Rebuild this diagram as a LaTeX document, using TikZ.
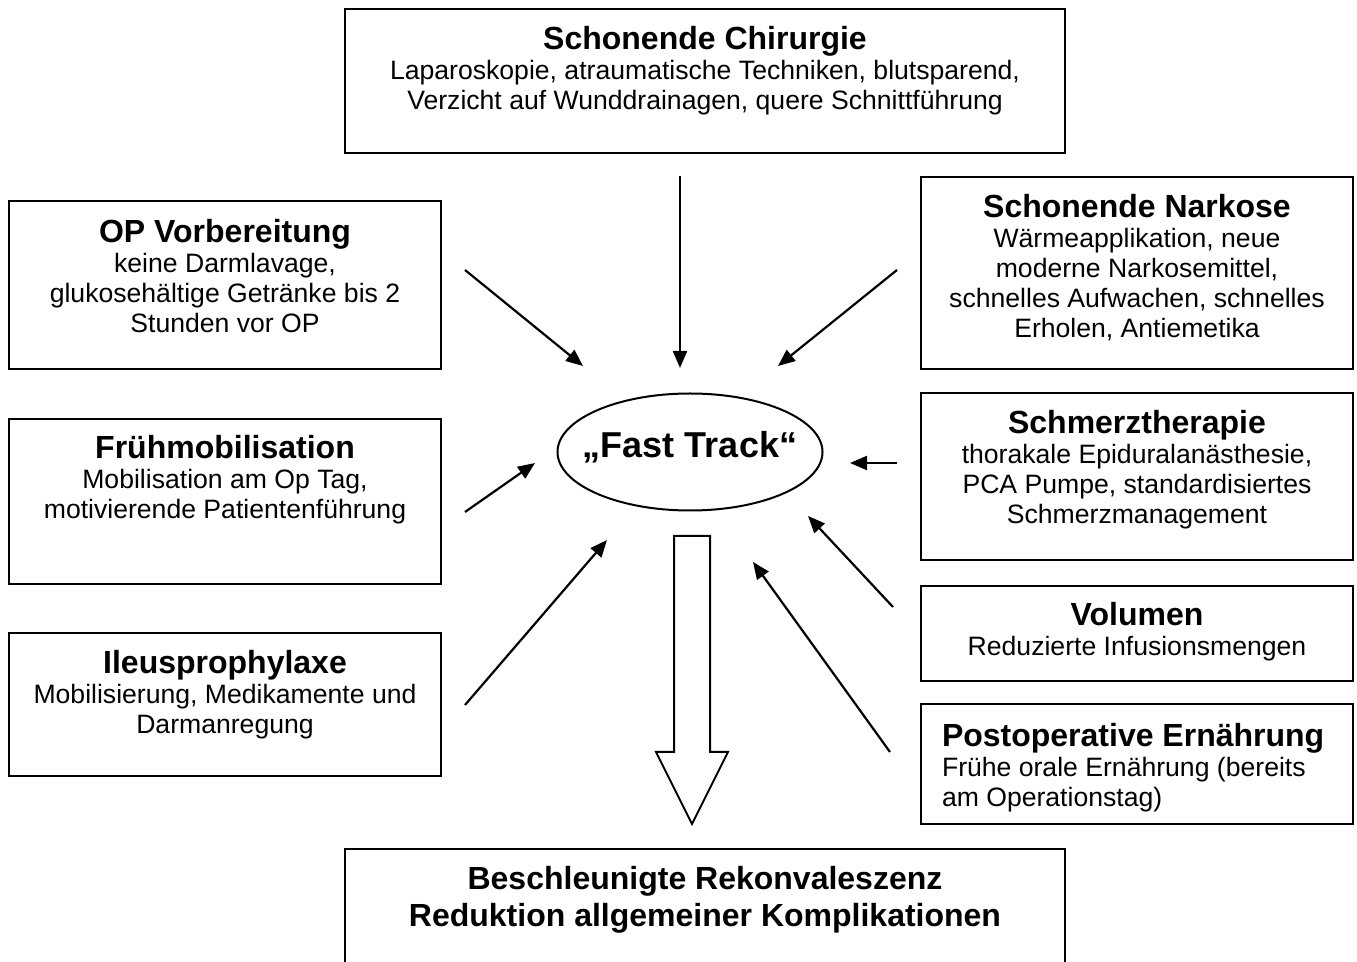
\documentclass[tikz,border=0pt]{standalone}
\usepackage{fontspec}
\setmainfont{Liberation Sans}
\usetikzlibrary{arrows.meta, shapes.geometric}

\newcommand{\fttitle}{\fontsize{16}{18.5}\bfseries\selectfont}
\newcommand{\fttext}{\fontsize{13.3}{15}\selectfont}

\begin{document}
\begin{tikzpicture}[x=0.5pt, y=-0.5pt, line width=1pt,
    box/.style={draw, anchor=north west, inner sep=0pt, minimum width=216pt},
    txt/.style={anchor=north, align=center, inner sep=0pt, font=\fttext},
    pfeil/.style={-{Triangle[length=8.5pt, width=7pt]}, line width=1.1pt}]
    \useasboundingbox (0,0) rectangle (1357,962);
    \clip (0,0) rectangle (1357,962);

    \node[box, minimum width=360pt, minimum height=72pt] (chir) at (344, 8) {};
    \node[txt] (chirtxt) at ([yshift=-8.5pt]chir.north) {{\fttitle Schonende Chirurgie}\\Laparoskopie, atraumatische Techniken, blutsparend,\\Verzicht auf Wunddrainagen, quere Schnittführung};

    \node[box, minimum height=84pt] (vorb) at (8, 200) {};
    \node[txt] (vorbtxt) at ([yshift=-9pt]vorb.north) {{\fttitle OP Vorbereitung}\\keine Darmlavage,\\glukosehältige Getränke bis 2\\Stunden vor OP};

    \node[box, minimum height=82.5pt] (mobil) at (8, 418) {};
    \node[txt] (mobiltxt) at ([yshift=-8pt]mobil.north) {{\fttitle Frühmobilisation}\\Mobilisation am Op Tag,\\motivierende Patientenführung};

    \node[box, minimum height=71.5pt] (ileus) at (8, 632) {};
    \node[txt] (ileustxt) at ([yshift=-8.5pt]ileus.north) {{\fttitle Ileusprophylaxe}\\Mobilisierung, Medikamente und\\Darmanregung};

    \node[box, minimum height=96pt] (narkose) at (920, 176) {};
    \node[txt] (narkosetxt) at ([yshift=-8.5pt]narkose.north) {{\fttitle Schonende Narkose}\\Wärmeapplikation, neue\\moderne Narkosemittel,\\schnelles Aufwachen, schnelles\\Erholen, Antiemetika};

    \node[box, minimum height=83.5pt] (schmerz) at (920, 392) {};
    \node[txt] (schmerztxt) at ([yshift=-8.5pt]schmerz.north) {{\fttitle Schmerztherapie}\\thorakale Epiduralanästhesie,\\PCA Pumpe, standardisiertes\\Schmerzmanagement};

    \node[box, minimum height=47.5pt] (volumen) at (920, 585) {};
    \node[txt] (volumentxt) at ([yshift=-8pt]volumen.north) {{\fttitle Volumen}\\Reduzierte Infusionsmengen};

    \node[box, minimum height=60pt] (ernaehr) at (920, 703) {};
    \node[txt, anchor=north west, align=left] (ernaehrtxt) at ([xshift=10.5pt, yshift=-9.5pt]ernaehr.north west) {{\fttitle Postoperative Ernährung}\\Frühe orale Ernährung (bereits\\am Operationstag)};

    \node[box, minimum width=360pt, minimum height=70pt] (ziel) at (344, 848) {};
    \node[txt, font=\fttitle] (zieltxt) at ([yshift=-8.5pt]ziel.north) {Beschleunigte Rekonvaleszenz\\Reduktion allgemeiner Komplikationen};

    \node[draw, ellipse, minimum width=132.5pt, minimum height=58.5pt, inner sep=0pt] (ft) at (690, 452) {};
    \node[inner sep=0pt, font=\fontsize{18}{20}\bfseries\selectfont] (fttxt) at ([yshift=2.5pt]ft.center) {„Fast Track“};

    \coordinate (s1) at (680, 176); \coordinate (e1) at (680, 368);
    \coordinate (s2) at (465, 270); \coordinate (e2) at (583, 366);
    \coordinate (s3) at (897, 270); \coordinate (e3) at (778, 366);
    \coordinate (s4) at (897, 463); \coordinate (e4) at (850, 463);
    \coordinate (s5) at (465, 512); \coordinate (e5) at (535, 463);
    \coordinate (s6) at (465, 705); \coordinate (e6) at (607, 540);
    \coordinate (s7) at (893, 607); \coordinate (e7) at (808, 516);
    \coordinate (s8) at (890, 752); \coordinate (e8) at (753, 562);
    \foreach \i in {1,...,8}
        \draw[pfeil] (s\i) -- (e\i);

    \draw (674, 536) -- (710, 536) -- (710, 752) -- (728, 752) -- (692, 824) -- (656, 752) -- (674, 752) -- cycle;
\end{tikzpicture}
\end{document}
